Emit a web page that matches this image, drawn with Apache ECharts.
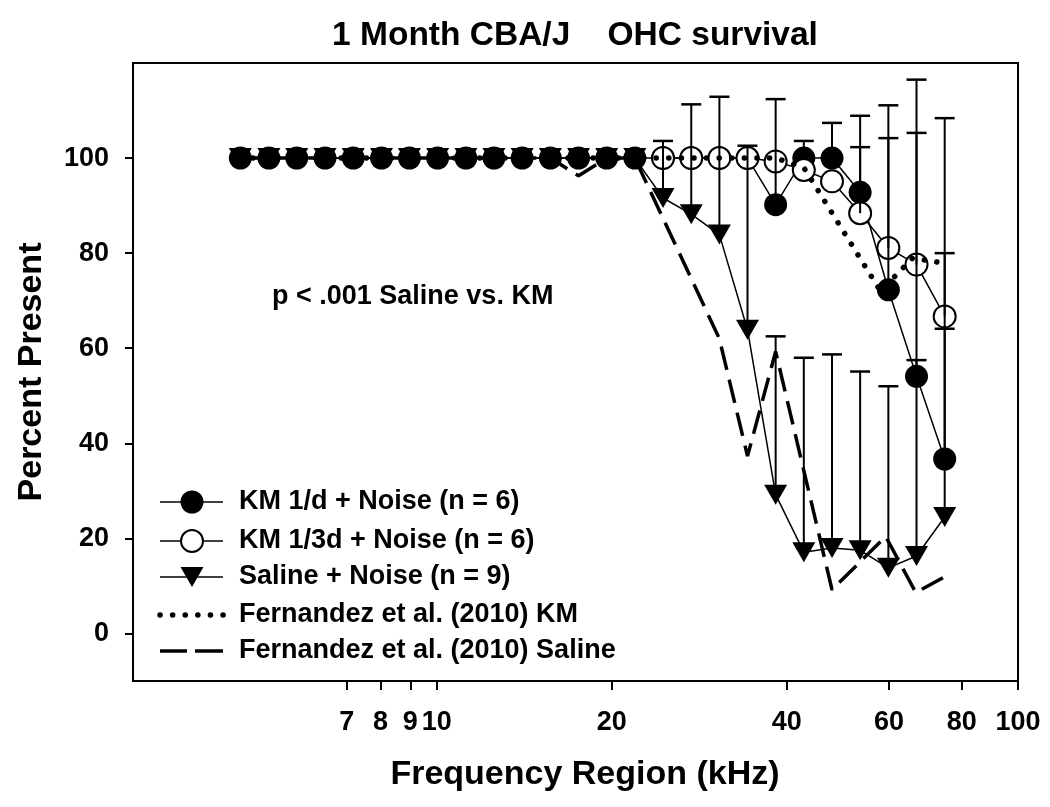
<!DOCTYPE html>
<html><head><meta charset="utf-8">
<script src="https://cdn.jsdelivr.net/npm/echarts@6/dist/echarts.min.js"></script>
<style>html,body{margin:0;padding:0;background:#fff}#c{width:1050px;height:807px}</style>
</head><body><div id="c"></div>
<script>
// Frequency positions of the measured points (kHz)
const freqs = [4.59, 5.14, 5.74, 6.42, 7.18, 8.03, 8.97, 10.03, 11.22, 12.54, 14.02, 15.68, 17.53,
  19.60, 21.91, 24.50, 27.40, 30.63, 34.24, 38.28, 42.80, 47.86, 53.50, 59.83, 66.89, 74.79];
// KM 1/d + Noise (filled circles)
const km1d = [100, 100, 100, 100, 100, 100, 100, 100, 100, 100, 100, 100, 100, 100, 100, 100, 100, 100, 100,
  90.2, 100, 100, 92.8, 72.3, 54.1, 36.7];
const km1dTop = [null, null, null, null, null, null, null, null, null, null, null, null, null, null, null, null, null, null, null,
  112.4, 103.6, 107.4, 108.9, 111.1, 116.5, 108.4];
// KM 1/3d + Noise (open circles)
const km13d = [null, null, null, null, null, null, null, null, null, null, null, null, null, null, null,
  100, 100, 100, 100, 99.3, 97.5, 95.1, 88.4, 81.1, 77.6, 66.7];
const km13dTop = [null, null, null, null, null, null, null, null, null, null, null, null, null, null, null,
  null, null, null, null, null, null, null, 102.3, 104.2, 105.3, 80.0];
// Saline + Noise (triangles)
const saline = [100, 100, 100, 100, 100, 100, 100, 100, 100, 100, 100, 100, 100, 100, 100,
  91.6, 88.2, 83.9, 63.9, 29.2, 17.1, 18.0, 17.5, 13.8, 16.3, 24.5];
const salineTop = [null, null, null, null, null, null, null, null, null, null, null, null, null, null, null,
  103.6, 111.3, 112.9, 102.6, 62.5, 58.0, 58.7, 55.1, 52.0, 57.5, 64.1];
// Fernandez et al. (2010) reference curves
const fernKmFreq = [4.59, 38.28, 42.8, 58.0, 65.9, 73.5];
const fernKmVal = [100, 100, 98, 72, 79, 78];
const fernSalFreq = [4.59, 15.68, 17.53, 19.60, 21.91, 30.63, 34.24, 38.28, 47.86, 59.2, 66.7, 74.5];
const fernSalVal = [100, 100, 96.3, 100, 100, 62, 37.3, 59.3, 9.2, 20.4, 8.6, 11.8];
// Axis ticks
const xTicks = [7, 8, 9, 10, 20, 40, 60, 80, 100];
const yTicks = [0, 20, 40, 60, 80, 100];

const names = ['KM 1/d + Noise (n = 6)', 'KM 1/3d + Noise (n = 6)', 'Saline + Noise (n = 9)',
  'Fernandez et al. (2010) KM', 'Fernandez et al. (2010) Saline'];
const FONT = '"Liberation Sans", Arial, sans-serif';

function pairs(xs, ys) {
  const out = [];
  xs.forEach((x, i) => { if (ys[i] != null) out.push([x, ys[i]]); });
  return out;
}
function errSeries(vals, tops) {
  const data = [];
  freqs.forEach((f, i) => { if (tops[i] != null && vals[i] != null) data.push([f, vals[i], tops[i]]); });
  return {
    type: 'custom', silent: true, z: 6, clip: false,
    renderItem(params, api) {
      const p = api.coord([api.value(0), api.value(1)]);
      const t = api.coord([api.value(0), api.value(2)]);
      return { type: 'group', children: [
        { type: 'line', shape: { x1: p[0], y1: p[1], x2: t[0], y2: t[1] }, style: { stroke: '#000', lineWidth: 2 } },
        { type: 'line', shape: { x1: t[0] - 10, y1: t[1], x2: t[0] + 10, y2: t[1] }, style: { stroke: '#000', lineWidth: 2.5 } }
      ] };
    },
    encode: { x: 0, y: [1, 2] },
    data
  };
}

// Legend (drawn as graphic elements)
const LX0 = 160, LX1 = 223, LXC = 192, LTX = 239;
const rows = [502, 541, 577, 615, 651];
const legendEls = [];
rows.forEach((y, k) => {
  if (k < 3) legendEls.push({ type: 'line', shape: { x1: LX0, y1: y, x2: LX1, y2: y }, style: { stroke: '#000', lineWidth: 1.5 } });
  if (k === 0) legendEls.push({ type: 'circle', shape: { cx: LXC, cy: y, r: 11.5 }, style: { fill: '#000' } });
  if (k === 1) legendEls.push({ type: 'circle', shape: { cx: LXC, cy: y, r: 11 }, style: { fill: '#fff', stroke: '#000', lineWidth: 2 } });
  if (k === 2) legendEls.push({ type: 'polygon', shape: { points: [[LXC - 11.5, y - 10], [LXC + 11.5, y - 10], [LXC, y + 10]] }, style: { fill: '#000' } });
  if (k === 3) legendEls.push({ type: 'line', shape: { x1: LX0, y1: y, x2: LX1 + 1, y2: y }, style: { stroke: '#000', lineWidth: 5.5, lineDash: [0.1, 12.5], lineCap: 'round' } });
  if (k === 4) {
    legendEls.push({ type: 'line', shape: { x1: LX0, y1: y, x2: LX0 + 27, y2: y }, style: { stroke: '#000', lineWidth: 3.5 } });
    legendEls.push({ type: 'line', shape: { x1: LX0 + 35, y1: y, x2: LX1, y2: y }, style: { stroke: '#000', lineWidth: 3.5 } });
  }
  legendEls.push({ type: 'text', x: LTX, y: y, style: { text: names[k], font: 'bold 27px ' + FONT, fill: '#000', textAlign: 'left', textVerticalAlign: 'middle' } });
});

const chart = echarts.init(document.getElementById('c'), null, { renderer: 'canvas' });
chart.setOption({
  animation: false,
  backgroundColor: '#fff',
  textStyle: { fontFamily: FONT },
  grid: { left: 133, top: 63, width: 885, height: 618, show: true, borderColor: '#000', borderWidth: 2 },
  xAxis: {
    type: 'log', logBase: 10, min: 3, max: 100,
    axisLine: { onZero: false, lineStyle: { color: '#000', width: 2 } },
    axisTick: { customValues: xTicks, length: 9, lineStyle: { color: '#000', width: 2 } },
    axisLabel: { customValues: xTicks, color: '#000', fontSize: 27, fontWeight: 'bold', fontFamily: FONT, margin: 28 },
    splitLine: { show: false }, minorTick: { show: false }
  },
  yAxis: {
    type: 'value', min: -10, max: 120,
    axisLine: { show: true, onZero: false, lineStyle: { color: '#000', width: 2 } },
    axisTick: { show: true, customValues: yTicks, length: 8, lineStyle: { color: '#000', width: 2 } },
    axisLabel: { customValues: yTicks, color: '#000', fontSize: 27, fontWeight: 'bold', fontFamily: FONT, margin: 24 },
    splitLine: { show: false }
  },
  graphic: [
    { type: 'text', x: 575, y: 36, style: { text: '1 Month CBA/J    OHC survival', font: 'bold 33.5px ' + FONT, fill: '#000', textAlign: 'center', textVerticalAlign: 'middle' } },
    { type: 'text', x: 585, y: 775, style: { text: 'Frequency Region (kHz)', font: 'bold 34px ' + FONT, fill: '#000', textAlign: 'center', textVerticalAlign: 'middle' } },
    { type: 'text', x: 32, y: 372, rotation: Math.PI / 2, style: { text: 'Percent Present', font: 'bold 34px ' + FONT, fill: '#000', textAlign: 'center', textVerticalAlign: 'middle' } },
    { type: 'text', x: 272, y: 297, style: { text: 'p < .001 Saline vs. KM', font: 'bold 27px ' + FONT, fill: '#000', textAlign: 'left', textVerticalAlign: 'middle' } }
  ].concat(legendEls),
  series: [
    { name: names[2], type: 'line', data: pairs(freqs, saline), symbol: 'triangle', symbolRotate: 180, symbolSize: [23, 20],
      itemStyle: { color: '#000' }, lineStyle: { color: '#000', width: 1.5 }, z: 2 },
    { name: names[0], type: 'line', data: pairs(freqs, km1d), symbol: 'circle', symbolSize: 23,
      itemStyle: { color: '#000' }, lineStyle: { color: '#000', width: 1.5 }, z: 2 },
    { name: names[1], type: 'line', data: pairs(freqs, km13d), symbol: 'circle', symbolSize: 22,
      itemStyle: { color: '#fff', borderColor: '#000', borderWidth: 2 }, lineStyle: { color: '#000', width: 1.5 }, z: 3 },
    { name: names[4], type: 'line', data: pairs(fernSalFreq, fernSalVal), symbol: 'none',
      lineStyle: { color: '#000', width: 3.5, type: [24, 10] }, itemStyle: { color: '#000' }, z: 4 },
    { name: names[3], type: 'line', data: pairs(fernKmFreq, fernKmVal), symbol: 'none',
      lineStyle: { color: '#000', width: 5.5, type: [0.1, 12.5], cap: 'round' }, itemStyle: { color: '#000' }, z: 5 },
    errSeries(saline, salineTop),
    errSeries(km1d, km1dTop),
    errSeries(km13d, km13dTop)
  ]
});
</script>
</body></html>
